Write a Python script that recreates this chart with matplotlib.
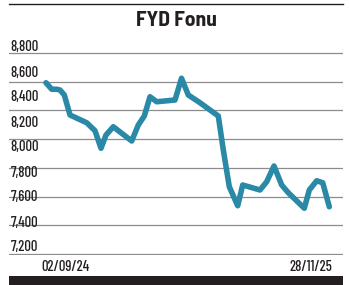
import numpy as np
import matplotlib
matplotlib.use("Agg")
import matplotlib.pyplot as plt
from matplotlib.lines import Line2D
from matplotlib.patches import Rectangle

plt.rcParams['font.family'] = ['Barlow Condensed', 'DejaVu Sans']
plt.rcParams['font.stretch'] = 'condensed'

# fund price series (x = sample position along the period)
x_pos = [46, 51.7, 56.7, 60, 64.3, 70, 86.7, 95, 101, 106, 113.3, 131.7, 138.3, 144.3,
         150, 156.7, 175, 181.5, 188.3, 200, 218.3, 223.3, 229.3, 237.7, 242.7, 260,
         266.7, 274, 281.7, 288.3, 304.3, 309.3, 316.7, 322.7, 329.3]
price = [8506, 8454, 8454, 8448, 8408, 8248, 8186, 8122, 7982, 8088, 8154, 8040, 8168, 8240,
         8394, 8354, 8368, 8542, 8408, 8346, 8240, 7968, 7674, 7522, 7688, 7648,
         7714, 7840, 7688, 7626, 7502, 7648, 7722, 7706, 7514]

y_ticks = [8800, 8600, 8400, 8200, 8000, 7800, 7600, 7400, 7200]
y_labels = ["8,800", "8,600", "8,400", "8,200", "8,000", "7,800", "7,600", "7,400", "7,200"]
x_ticks = [65, 311]
x_labels = ["02/09/24", "28/11/25"]
grid_levels = np.linspace(7136, 8746, 8)

title = "FYD Fonu"

W, H = 350, 285
fig = plt.figure(figsize=(W / 100, H / 100), dpi=100)
ax = fig.add_axes([9 / W, (H - 255) / H, 334 / W, 215 / H])

for g in grid_levels:
    ax.axhline(g, color='#8c8c8c', lw=0.9, zorder=1)

ax.plot(x_pos, price, color='#2a89a7', lw=4.0, solid_capstyle='round',
        solid_joinstyle='round', zorder=3)

ax.set_xlim(9, 343)
ax.set_ylim(7128, 8848)

ax.set_yticks(y_ticks, y_labels)
ax.set_xticks(x_ticks, x_labels)
for lab in ax.get_yticklabels():
    lab.set_ha('left')
ax.tick_params(axis='y', length=0, pad=-1, labelsize=10.5, labelcolor='#231f20')
ax.tick_params(axis='x', length=0, pad=3.5, labelsize=10.5, labelcolor='#231f20')
for lab in ax.get_yticklabels() + ax.get_xticklabels():
    lab.set_fontweight(500)

for s in ax.spines.values():
    s.set_visible(False)
ax.patch.set_alpha(0)

# top rule, title and bottom bar
fig.add_artist(Line2D([9 / W, 343 / W], [1 - 4.3 / H] * 2, color='#231f20', lw=1.0))
fig.text(176 / W, 1 - 21 / H, title, ha='center', va='center', fontsize=15.5,
         fontweight='bold', color='#231f20', family=['Barlow Semi Condensed', 'DejaVu Sans'])
fig.add_artist(Rectangle((9 / W, 0), 334 / W, 9.3 / H, color='#231f20', lw=0))

fig.savefig("out.png", dpi=100)
